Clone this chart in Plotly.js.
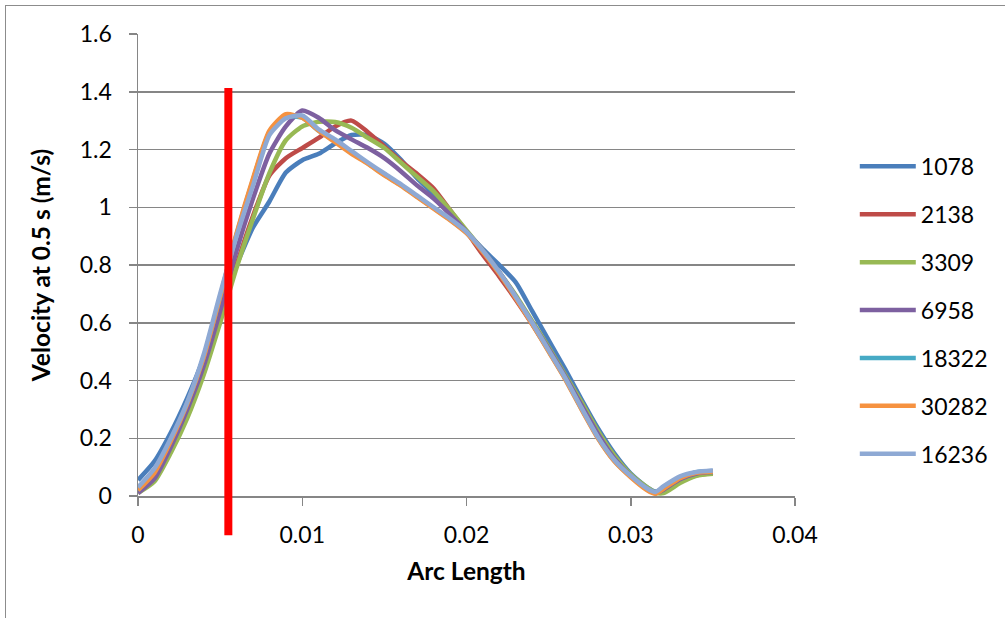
<!DOCTYPE html>
<html>
<head>
<meta charset="utf-8">
<script src="https://cdn.plot.ly/plotly-3.0.1.min.js"></script>
<style>
  html, body { margin: 0; padding: 0; background: #fff; }
  #wrap { position: relative; width: 1005px; height: 618px; overflow: hidden; }
  #chart { width: 1005px; height: 618px; }
  #frame { position: absolute; left: 5px; top: 5px; width: 1100px; height: 700px;
           border-left: 1.5px solid #8c8c8c; border-top: 1.5px solid #8c8c8c;
           pointer-events: none; }
</style>
</head>
<body>
<div id="wrap">
  <div id="chart"></div>
  <div id="frame"></div>
</div>
<script>
// Arc length sample positions (m)
const arcLength = [0, 0.001, 0.002, 0.003, 0.004, 0.005, 0.006, 0.007, 0.008, 0.009,
  0.010, 0.011, 0.012, 0.013, 0.014, 0.015, 0.016, 0.017, 0.018, 0.019,
  0.020, 0.021, 0.022, 0.023, 0.024, 0.025, 0.026, 0.027, 0.028, 0.029,
  0.030, 0.031, 0.0315, 0.032, 0.033, 0.034, 0.035];

// Velocity at 0.5 s (m/s) for each mesh size
const v1078 = [0.055, 0.12, 0.22, 0.34, 0.48, 0.66, 0.80, 0.93, 1.02, 1.12,
  1.163, 1.185, 1.221, 1.25, 1.25, 1.22, 1.165, 1.10, 1.045, 0.98,
  0.915, 0.855, 0.80, 0.74, 0.64, 0.54, 0.44, 0.335, 0.235, 0.148,
  0.078, 0.03, 0.016, 0.026, 0.062, 0.082, 0.087];
const v2138 = [0.015, 0.06, 0.16, 0.285, 0.43, 0.61, 0.80, 0.97, 1.11, 1.17,
  1.205, 1.24, 1.28, 1.30, 1.26, 1.21, 1.16, 1.115, 1.065, 0.99,
  0.915, 0.835, 0.76, 0.68, 0.595, 0.505, 0.41, 0.315, 0.215, 0.135,
  0.07, 0.025, 0.01, 0.018, 0.052, 0.072, 0.08];
const v3309 = [0.01, 0.05, 0.15, 0.27, 0.42, 0.60, 0.79, 0.96, 1.118, 1.232,
  1.28, 1.296, 1.295, 1.275, 1.24, 1.205, 1.155, 1.105, 1.055, 0.99,
  0.92, 0.85, 0.775, 0.695, 0.605, 0.515, 0.42, 0.325, 0.225, 0.14,
  0.075, 0.03, 0.012, 0.01, 0.045, 0.07, 0.077];
const v6958 = [0.01, 0.06, 0.17, 0.30, 0.45, 0.64, 0.85, 1.03, 1.186, 1.28,
  1.335, 1.31, 1.267, 1.235, 1.205, 1.17, 1.125, 1.075, 1.03, 0.975,
  0.915, 0.85, 0.775, 0.69, 0.60, 0.51, 0.415, 0.315, 0.215, 0.13,
  0.07, 0.025, 0.01, 0.022, 0.058, 0.078, 0.083];
const v18322 = [0.02, 0.085, 0.195, 0.322, 0.482, 0.69, 0.905, 1.095, 1.26, 1.315,
  1.31, 1.265, 1.228, 1.188, 1.152, 1.112, 1.077, 1.037, 0.997, 0.957,
  0.912, 0.847, 0.772, 0.687, 0.597, 0.502, 0.407, 0.302, 0.202, 0.122,
  0.067, 0.022, 0.01, 0.027, 0.064, 0.082, 0.086];
const v30282 = [0.02, 0.08, 0.19, 0.32, 0.48, 0.69, 0.91, 1.10, 1.265, 1.322,
  1.31, 1.265, 1.225, 1.185, 1.15, 1.11, 1.075, 1.035, 0.995, 0.955,
  0.91, 0.845, 0.77, 0.685, 0.595, 0.50, 0.405, 0.30, 0.20, 0.12,
  0.065, 0.02, 0.008, 0.025, 0.062, 0.08, 0.085];
const v16236 = [0.03, 0.095, 0.20, 0.325, 0.49, 0.70, 0.90, 1.075, 1.25, 1.308,
  1.318, 1.27, 1.235, 1.195, 1.155, 1.117, 1.08, 1.04, 1.00, 0.96,
  0.915, 0.85, 0.775, 0.69, 0.60, 0.505, 0.41, 0.305, 0.204, 0.125,
  0.07, 0.026, 0.014, 0.034, 0.068, 0.083, 0.088];

const seriesNames = ['1078', '2138', '3309', '6958', '18322', '30282', '16236'];
const seriesValues = [v1078, v2138, v3309, v6958, v18322, v30282, v16236];
const seriesColors = ['#4A7EBB', '#BE4B48', '#98B954', '#7D60A0', '#46AAC5', '#F69240', '#8EA9D4'];

// Vertical red marker position and its extent in data units
const markerX = 0.0055;
const markerYRange = [-0.136, 1.413];

const xTicks = [0, 0.01, 0.02, 0.03, 0.04];
const yTicks = [0, 0.2, 0.4, 0.6, 0.8, 1, 1.2, 1.4, 1.6];
const yRange = [0, 1.6];

const baseFont = 'Lato, "Open Sans", sans-serif';
const grey = '#868686';

const traces = seriesNames.map((name, i) => ({
  type: 'scatter',
  mode: 'lines',
  name: name,
  legendgroup: 'g' + i,
  x: arcLength,
  y: seriesValues[i],
  line: { color: seriesColors[i], width: 4.5, shape: 'spline', smoothing: 0.6 },
  hoverinfo: 'x+y+name'
}));

const layout = {
  width: 1005,
  height: 618,
  margin: { l: 138, r: 207, t: 34, b: 122 },
  paper_bgcolor: '#ffffff',
  plot_bgcolor: '#ffffff',
  font: { family: baseFont, size: 23, color: '#000' },
  showlegend: true,
  legend: {
    x: 1.091, xanchor: 'left',
    y: 0.76, yanchor: 'top',
    font: { family: baseFont, size: 23, color: '#000' },
    tracegroupgap: 15,
    itemwidth: 56,
    bgcolor: 'rgba(0,0,0,0)'
  },
  xaxis: {
    range: [0, 0.04],
    tickvals: xTicks,
    ticktext: xTicks.map(String),
    showgrid: false,
    zeroline: false,
    showline: true,
    linecolor: grey,
    linewidth: 1.5,
    ticks: 'outside',
    ticklen: 8,
    tickwidth: 1.5,
    tickcolor: grey,
    ticklabelstandoff: 10,
    tickfont: { family: baseFont, size: 23 },
    title: { text: 'Arc Length', font: { family: baseFont, size: 24.5, weight: 'bold' }, standoff: 16 },
    fixedrange: true
  },
  yaxis: {
    range: yRange,
    tickvals: yTicks,
    ticktext: yTicks.map(String),
    showgrid: true,
    gridcolor: grey,
    gridwidth: 1.5,
    zeroline: false,
    showline: true,
    linecolor: grey,
    linewidth: 1.5,
    ticks: 'outside',
    ticklen: 8,
    tickwidth: 1.5,
    tickcolor: grey,
    ticklabelstandoff: 12,
    tickfont: { family: baseFont, size: 23 },
    title: { text: 'Velocity at 0.5 s (m/s)', font: { family: baseFont, size: 24.5, weight: 'bold' }, standoff: 22 },
    fixedrange: true
  },
  shapes: [{
    type: 'line',
    xref: 'x', yref: 'paper',
    x0: markerX, x1: markerX,
    y0: (markerYRange[0] - yRange[0]) / (yRange[1] - yRange[0]),
    y1: (markerYRange[1] - yRange[0]) / (yRange[1] - yRange[0]),
    line: { color: '#FF0000', width: 8 },
    layer: 'above'
  }]
};

Plotly.newPlot('chart', traces, layout, { displayModeBar: false, staticPlot: true });
</script>
</body>
</html>
